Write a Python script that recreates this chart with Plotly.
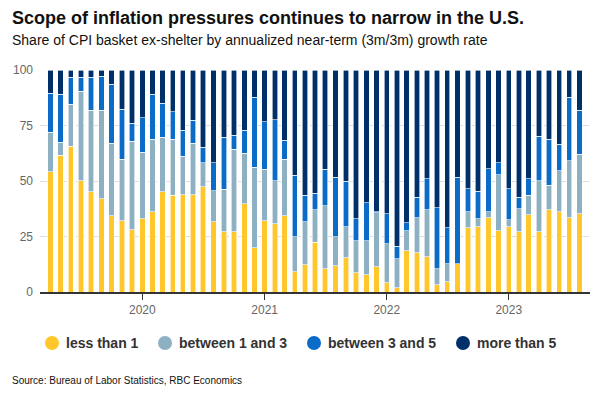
import plotly.graph_objects as go
import pandas as pd

months = pd.date_range("2019-04-01", "2023-08-01", freq="MS").strftime("%Y-%m-%d").tolist()

less_than_1 = [54.1, 61.5, 65.6, 50.1, 45.1, 42.0, 34.4, 32.2, 28.1, 33.1, 36.2, 45.1, 43.5, 43.8, 43.8, 47.5, 31.7, 27.2,
               27.2, 39.8, 20.0, 32.2, 30.8, 34.4, 9.2, 12.3, 22.3, 10.5, 11.9, 15.5, 8.7, 7.8, 11.4, 4.2, 2.0, 18.6,
               17.7, 15.9, 3.3, 4.7, 12.8, 29.0, 29.5, 33.5, 27.7, 29.5, 27.2, 34.9, 27.2, 37.1, 36.2, 33.5, 35.3]
between_1_3 = [17.8, 5.9, 18.9, 40.3, 36.7, 39.8, 32.5, 27.5, 39.9, 29.8, 32.5, 24.5, 25.2, 17.3, 23.1, 10.8, 14.0, 19.0,
               37.0, 22.6, 36.1, 23.0, 19.4, 25.3, 15.8, 19.4, 14.8, 28.4, 13.1, 14.0, 14.5, 15.4, 24.4, 17.6, 13.0, 9.1,
               15.8, 21.2, 7.2, 8.1, 0.0, 7.2, 3.6, 2.7, 25.2, 3.1, 10.4, 8.6, 23.0, 10.9, 18.5, 25.7, 26.7]
between_3_5 = [17.6, 21.6, 12.2, 6.3, 14.9, 15.3, 26.6, 22.6, 8.1, 15.7, 20.3, 15.4, 12.5, 11.7, 10.4, 6.8, 12.6, 23.4,
               6.3, 10.4, 31.6, 21.6, 27.5, 8.6, 27.5, 11.8, 7.3, 16.3, 26.6, 20.3, 9.9, 17.1, 0.4, 13.5, 5.5, 3.6,
               9.1, 14.0, 27.5, 16.2, 38.8, 10.4, 12.2, 19.4, 5.4, 14.0, 5.0, 7.6, 19.9, 20.7, 11.8, 28.5, 19.8]
more_than_5 = [10.5, 11.0, 3.3, 3.3, 3.3, 2.9, 6.5, 17.7, 23.9, 21.4, 11.0, 15.0, 18.8, 27.2, 22.7, 34.9, 41.7, 30.4,
               29.5, 27.2, 12.3, 23.2, 22.3, 31.7, 47.5, 56.5, 55.6, 44.8, 48.4, 50.2, 66.9, 59.7, 63.8, 64.7, 79.5, 68.7,
               57.4, 48.9, 62.0, 71.0, 48.4, 53.4, 54.7, 44.4, 41.7, 53.4, 57.4, 48.9, 29.9, 31.3, 33.5, 12.3, 18.2]

series_names = ["less than 1", "between 1 and 3", "between 3 and 5", "more than 5"]
series_values = [less_than_1, between_1_3, between_3_5, more_than_5]
colors = ["#FFC72C", "#8DB0C2", "#0A6BC8", "#00306A"]

tick_vals = ["2020-01-01", "2021-01-01", "2022-01-01", "2023-01-01"]
tick_text = ["2020", "2021", "2022", "2023"]

# page body has an 8px margin; figure is sized/positioned to compensate
OFF = 8
W, H = 600 - OFF, 400 - OFF
PLOT_TOP, PLOT_BOTTOM, PLOT_LEFT, PLOT_RIGHT = 70, 292, 40, 590
ph = PLOT_BOTTOM - PLOT_TOP
pw = PLOT_RIGHT - PLOT_LEFT
TEXT_X = 10


def py(ypix):
    return (PLOT_BOTTOM - ypix) / ph


def px(xpix):
    return (xpix - PLOT_LEFT) / pw


fig = go.Figure()
for name, vals, col in zip(series_names, series_values, colors):
    fig.add_trace(go.Bar(x=months, y=vals, name=name, marker=dict(color=col, line=dict(color="white", width=0.6)),
                         showlegend=False))

# legend: circle swatch + bold label for each series
legend_circle_x = [52, 165, 314, 463]
LEG_Y = 343
shapes = []
annotations = []
for name, col, cx in zip(series_names, colors, legend_circle_x):
    shapes.append(dict(type="circle", xref="paper", yref="paper", xsizemode="pixel", ysizemode="pixel",
                       xanchor=px(cx), yanchor=py(LEG_Y), x0=-7, x1=7, y0=-7, y1=7,
                       fillcolor=col, line=dict(width=0)))
    annotations.append(dict(text=f"<b>{name}</b>", xref="paper", yref="paper", x=px(cx + 12),
                            y=py(LEG_Y), xanchor="left", yanchor="middle", showarrow=False,
                            font=dict(size=14, color="#333")))

annotations += [
    dict(text="<b>Scope of inflation pressures continues to narrow in the U.S.</b>", xref="paper", yref="paper",
         x=px(TEXT_X), y=py(17.5), xanchor="left", yanchor="middle", showarrow=False,
         font=dict(size=18, color="#111")),
    dict(text="Share of CPI basket ex-shelter by annualized near-term (3m/3m) growth rate", xref="paper",
         yref="paper", x=px(TEXT_X), y=py(40.5), xanchor="left", yanchor="middle",
         showarrow=False, font=dict(size=14, color="#111")),
    dict(text="Source: Bureau of Labor Statistics, RBC Economics", xref="paper", yref="paper",
         x=px(TEXT_X), y=py(380), xanchor="left", yanchor="middle", showarrow=False,
         font=dict(size=10, color="#111")),
]

fig.update_layout(
    barmode="stack",
    bargap=0.42,
    width=W, height=H,
    margin=dict(l=PLOT_LEFT - OFF, r=600 - PLOT_RIGHT, t=PLOT_TOP - OFF, b=400 - PLOT_BOTTOM, autoexpand=False),
    plot_bgcolor="white", paper_bgcolor="white",
    font=dict(family="Liberation Sans, Arial, sans-serif", color="#666", size=12),
    showlegend=False,
    xaxis=dict(type="date", range=["2019-03-01", "2023-09-01"], tickvals=tick_vals, ticktext=tick_text,
               showgrid=False, showline=True, linecolor="#333", linewidth=1.5, ticks="outside", ticklen=6,
               tickcolor="#333", tickwidth=1, tickfont=dict(size=12, color="#666"), zeroline=False,
               automargin=False),
    yaxis=dict(range=[0, 100], tickvals=[0, 25, 50, 75, 100], showgrid=True, gridcolor="#DDDDDD",
               griddash="dash", gridwidth=1, zeroline=False, showline=False, ticks="",
               tickfont=dict(size=12, color="#666"), ticklabelstandoff=6, automargin=False),
    shapes=shapes,
    annotations=annotations,
)

fig.write_html("out.html")
